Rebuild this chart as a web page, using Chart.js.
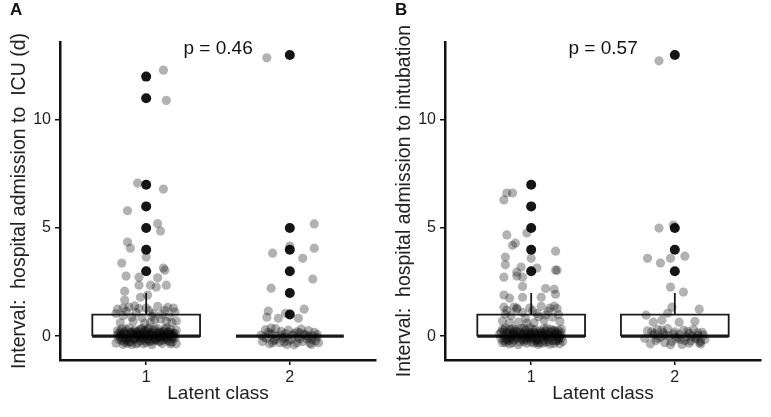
<!DOCTYPE html>
<html>
<head>
<title>Latent class intervals</title>
<script src="https://cdn.jsdelivr.net/npm/chart.js@4.4.1/dist/chart.umd.min.js"></script>
<style>
  body { margin: 0; background: #fff; }
  #wrap { position: relative; width: 771px; height: 417px; }
  canvas { position: absolute; top: 0; }
</style>
</head>
<body>
<div id="wrap">
  <canvas id="chartA" width="386" height="417" style="left:0"></canvas>
  <canvas id="chartB" width="386" height="417" style="left:385px"></canvas>
</div>

<script>
// categories
var classes = ['1', '2'];

// panel A: hospital admission to ICU
var aQ1 = [0, 0];
var aMed = [0, 0];
var aQ3 = [1, 0];
var aHi = [2, 0];
var aOut1 = [3, 4, 5, 6, 7, 11, 12];
var aOut2 = [1, 2, 3, 4, 5, 13];
var aP = 'p = 0.46';

// panel B: hospital admission to intubation
var bQ1 = [0, 0];
var bMed = [0, 0];
var bQ3 = [1, 1];
var bHi = [2, 2];
var bOut1 = [3, 4, 5, 6, 7];
var bOut2 = [3, 4, 5, 13];
var bP = 'p = 0.57';

var aJit1 = [
  [1.12,12.3],[1.14,10.9],[0.94,7.08],[1.12,6.8],[0.87,5.8],[1.08,5.2],[1.10,4.86],[0.87,4.35],[0.89,4.07],
  [1.0,3.66],[0.83,3.38],[1.12,3.15],[1.13,3.05],[0.86,2.78],[0.95,2.73],[1.08,2.7],[0.95,2.36],[1.07,2.27],
  [1.14,2.36],[1.03,2.36],[0.85,2.08],[0.96,1.8],[1.01,1.9],[0.85,1.67],[0.84,1.3],
  [0.80,1.25],[0.84,0.95],[0.88,1.35],[0.91,0.7],[0.93,1.1],[0.97,0.85],[1.00,1.3],[1.03,0.65],[1.05,1.05],
  [1.08,1.38],[1.10,0.8],[1.13,1.2],[1.16,0.9],[1.19,1.3],[1.21,0.7],[0.82,0.62],[0.86,1.15],[0.90,0.88],
  [0.95,1.28],[0.99,0.6],[1.02,1.18],[1.06,0.75],[1.11,1.02],[1.15,1.33],[1.18,0.62],[0.79,1.05],[0.92,1.4],
  [1.04,0.92],[1.14,0.68],[1.20,1.12],
  [0.79,-0.32],[0.81,0.12],[0.82,-0.05],[0.83,0.34],[0.84,-0.38],[0.85,0.21],[0.86,-0.18],[0.87,0.05],[0.88,0.38],[0.89,-0.27],
  [0.90,0.15],[0.91,-0.08],[0.92,0.29],[0.93,-0.36],[0.94,0.02],[0.95,0.24],[0.96,-0.21],[0.97,0.36],[0.98,-0.12],[0.99,0.09],
  [1.00,-0.3],[1.01,0.31],[1.02,-0.02],[1.03,0.18],[1.04,-0.39],[1.05,0.26],[1.06,-0.15],[1.07,0.07],[1.08,0.35],[1.09,-0.24],
  [1.10,0.13],[1.11,-0.34],[1.12,0.22],[1.13,-0.06],[1.14,0.39],[1.15,-0.19],[1.16,0.04],[1.17,0.3],[1.18,-0.28],[1.19,0.16],
  [1.20,-0.1],[1.21,0.27],[0.80,0.25],[0.83,-0.2],[0.86,0.3],[0.88,-0.1],[0.91,0.2],[0.94,-0.3],[0.97,0.1],[1.00,0.22],
  [1.03,-0.25],[1.06,0.33],[1.09,0.0],[1.12,-0.17],[1.15,0.2],[1.18,0.08],[1.21,-0.35],[0.82,0.0],[0.87,-0.33],[0.92,0.06],
  [0.96,0.32],[1.01,-0.14],[1.05,0.02],[1.10,-0.22],[1.14,0.11],[1.19,-0.04],[0.85,0.14],[0.90,-0.38],[0.95,-0.04],[0.99,0.27],
  [1.04,0.12],[1.08,-0.07],[1.13,0.32],[1.17,-0.36],[0.81,-0.15],[0.93,0.19],[1.02,0.38],[1.11,0.06],[1.16,-0.26],[0.98,-0.35],
  [0.80,0.05],[0.82,0.2],[0.84,-0.1],[0.86,0.08],[0.88,-0.25],[0.90,0.0],[0.92,-0.15],[0.94,0.12],[0.96,-0.05],[0.98,0.2],
  [1.00,0.0],[1.02,-0.2],[1.04,0.05],[1.06,-0.1],[1.08,0.15],[1.10,-0.05],[1.12,0.02],[1.14,-0.12],[1.16,0.18],[1.18,-0.08],
  [1.20,0.12],[0.83,0.08],[0.87,-0.06],[0.91,0.1],[0.95,0.05],[0.99,-0.2],[1.03,0.04],[1.07,-0.18],[1.11,0.16],[1.15,-0.03],
  [1.19,0.02],[0.85,-0.28],[0.89,0.18],[0.93,-0.12],[0.97,0.0],[1.01,0.08],[1.05,-0.22],[1.09,0.2],[1.13,0.0],[1.17,0.1]
];
var aJit2 = [
  [1.84,12.87],[2.17,5.19],[2.0,4.17],[1.88,3.84],[2.17,4.07],[2.09,3.6],[2.16,2.64],[1.87,2.22],[2.10,1.25],
  [1.85,1.16],[1.84,0.88],[1.92,0.83],[1.97,1.06],[2.06,0.83],
  [1.80,0.05],[1.81,-0.25],[1.83,0.3],[1.84,-0.1],[1.85,0.18],[1.86,-0.35],[1.88,0.08],[1.89,-0.2],[1.90,0.35],[1.91,0.0],
  [1.93,-0.3],[1.94,0.22],[1.95,-0.08],[1.97,0.12],[1.98,-0.38],[1.99,0.28],[2.01,-0.15],[2.02,0.05],[2.03,-0.4],[2.05,0.2],
  [2.06,-0.05],[2.08,0.33],[2.09,-0.25],[2.10,0.1],[2.12,-0.12],[2.13,0.26],[2.14,-0.32],[2.16,0.02],[2.17,0.18],[2.18,-0.22],
  [2.19,0.08],[2.20,-0.3],[1.87,0.38],[1.96,-0.28],[2.07,0.15],[2.15,-0.38],
  [1.82,-0.05],[1.86,0.1],[1.90,-0.15],[1.94,0.05],[1.99,-0.22],[2.03,0.12],[2.07,-0.12],[2.11,0.05],[2.15,-0.15],[2.19,-0.05],
  [1.88,-0.3],[1.97,-0.05],[2.05,-0.3],[2.13,0.0]
];
var bJit1 = [
  [0.83,6.62],[0.87,6.62],[0.81,6.3],[0.83,4.68],[0.97,4.77],[0.87,4.2],[0.89,4.3],[1.17,3.93],[0.82,3.66],
  [1.0,3.6],[0.82,3.3],[0.93,3.2],[1.04,3.15],[0.90,2.96],[1.17,3.05],[1.18,3.05],[0.81,2.73],[0.94,2.73],
  [0.90,2.78],[0.94,2.3],[1.10,2.2],[1.16,2.17],[0.81,1.9],[0.85,1.76],[0.94,1.8],[1.07,1.8],[1.17,1.94],
  [0.81,1.34],[0.90,1.3],[1.16,1.39],
  [0.80,0.7],[0.83,1.2],[0.86,0.95],[0.88,1.35],[0.91,0.65],[0.94,1.1],[0.96,0.82],[0.99,1.3],[1.02,0.62],
  [1.04,1.05],[1.07,1.38],[1.09,0.75],[1.12,1.15],[1.15,0.88],[1.18,1.28],[1.20,0.68],[0.82,1.02],[0.90,1.25],
  [0.97,0.6],[1.05,0.9],[1.13,1.3],[1.19,1.0],[0.85,0.62],[1.01,1.18],[1.10,0.98],
  [0.78,0.1],[0.80,-0.3],[0.81,0.28],[0.83,-0.08],[0.84,0.16],[0.85,-0.36],[0.87,0.34],[0.88,-0.18],[0.89,0.04],[0.90,0.22],
  [0.92,-0.26],[0.93,0.12],[0.94,-0.02],[0.95,0.37],[0.97,-0.33],[0.98,0.19],[0.99,-0.11],[1.00,0.06],[1.01,0.3],[1.03,-0.2],
  [1.04,0.14],[1.05,-0.38],[1.06,0.25],[1.08,-0.06],[1.09,0.36],[1.10,-0.28],[1.11,0.09],[1.12,-0.14],[1.14,0.31],[1.15,-0.01],
  [1.16,-0.34],[1.17,0.2],[1.19,-0.17],[1.20,0.07],[1.21,0.33],[1.22,-0.24],[0.79,-0.12],[0.82,0.38],[0.86,0.0],[0.91,-0.39],
  [0.96,0.27],[1.02,-0.05],[1.07,0.18],[1.13,-0.37],[1.18,0.12],[0.84,-0.22],[0.89,0.3],[0.94,-0.16],[1.00,-0.27],[1.05,0.03],
  [1.10,0.24],[1.16,0.1],[1.21,-0.08],[0.81,0.02],[0.87,-0.3],[0.93,0.35],[0.98,-0.04],[1.03,0.29],[1.08,-0.32],[1.14,0.0],
  [1.19,0.26],[0.83,0.2],[0.90,-0.1],[0.97,0.08],[1.04,-0.14],[1.11,0.38],[1.17,-0.23],[0.80,0.32],[0.88,0.13],[0.95,-0.25],
  [1.02,0.17],[1.09,-0.19],[1.15,0.23],[1.20,-0.35],[0.86,-0.07],[0.99,0.39],[1.06,-0.29],[1.12,0.05],
  [0.79,0.18],[0.81,-0.2],[0.84,0.05],[0.86,-0.15],[0.88,0.25],[0.91,0.02],[0.93,-0.1],[0.95,0.15],[0.97,-0.18],[0.99,0.1],
  [1.01,-0.08],[1.03,0.1],[1.05,-0.15],[1.07,0.02],[1.09,0.15],[1.11,-0.06],[1.13,0.18],[1.15,-0.2],[1.17,0.02],[1.19,-0.1],
  [1.21,0.15],[0.82,-0.3],[0.85,0.3],[0.89,-0.05],[0.92,0.2],[0.96,-0.1],[1.00,0.15],[1.04,-0.28],[1.08,0.08],[1.12,-0.25],
  [1.16,0.28],[1.20,0.0],[0.87,0.15],[0.94,0.06],[1.02,-0.32],[1.10,0.0],[1.18,-0.2],[0.83,-0.15],[0.98,0.0],[1.06,0.12]
];
var bJit2 = [
  [1.89,12.73],[1.89,5.0],[1.99,5.14],[1.81,3.6],[1.90,3.38],[1.97,3.6],[2.07,3.7],[1.97,2.27],[2.06,2.04],
  [1.98,1.34],[2.17,1.25],[1.80,0.97],[1.85,0.65],[1.91,0.74],[2.03,0.65],[2.14,0.69],[1.95,1.06],
  [1.79,-0.1],[1.81,0.25],[1.83,-0.35],[1.85,0.05],[1.87,-0.2],[1.88,0.3],[1.90,-0.05],[1.92,0.15],[1.93,-0.3],[1.95,0.35],
  [1.96,0.0],[1.98,-0.25],[2.00,0.2],[2.01,-0.12],[2.03,0.08],[2.05,-0.38],[2.06,0.28],[2.08,-0.02],[2.10,0.12],[2.11,-0.22],
  [2.13,0.32],[2.14,-0.08],[2.16,0.04],[2.17,-0.3],[2.19,0.18],[2.21,-0.15],[1.86,0.12],[1.97,-0.4],[2.09,0.22],[2.18,-0.36],
  [1.84,0.2],[1.88,-0.1],[1.93,0.05],[1.99,0.1],[2.02,-0.05],[2.07,-0.2],[2.12,0.0],[2.15,-0.12],[2.18,-0.25],[2.20,0.05],
  [2.04,-0.15],[2.10,-0.32],[1.91,0.28],[2.16,0.15]
];

var FONT = '"Liberation Sans", Arial, sans-serif';
var BOX_HALF = 0.375;

function toXY(list) {
  return list.map(function (p) { return { x: p[0], y: p[1] }; });
}

function lineSet(pts, width, order) {
  return {
    type: 'scatter',
    data: pts,
    showLine: true,
    borderColor: '#1a1a1a',
    borderWidth: width,
    pointRadius: 0,
    fill: false,
    tension: 0,
    order: order
  };
}

// boxes, medians and whiskers built from the summary arrays
function boxSets(q1, med, q3, hi) {
  var sets = [];
  for (var i = 0; i < classes.length; i++) {
    var c = i + 1;
    sets.push(lineSet([
      { x: c - BOX_HALF, y: q1[i] }, { x: c + BOX_HALF, y: q1[i] },
      { x: c + BOX_HALF, y: q3[i] }, { x: c - BOX_HALF, y: q3[i] },
      { x: c - BOX_HALF, y: q1[i] }
    ], 1.8, 4));
    sets.push(lineSet([{ x: c - BOX_HALF, y: med[i] }, { x: c + BOX_HALF, y: med[i] }], 3.2, 4));
    if (hi[i] > q3[i]) {
      sets.push(lineSet([{ x: c, y: q3[i] }, { x: c, y: hi[i] }], 1.8, 4));
    }
  }
  return sets;
}

var panelText = {
  id: 'panelText',
  afterDraw: function (chart, args, opts) {
    var ctx = chart.ctx;
    ctx.save();
    ctx.fillStyle = '#111';
    ctx.font = 'bold 17px ' + FONT;
    ctx.textBaseline = 'alphabetic';
    ctx.textAlign = 'left';
    ctx.fillText(opts.letter, 10, 15);
    ctx.font = '19px ' + FONT;
    ctx.textBaseline = 'middle';
    ctx.fillText(opts.pText, chart.scales.x.getPixelForValue(1.26), chart.scales.y.getPixelForValue(13.3));
    ctx.restore();
  }
};

function makePanel(id, letter, yTitle, q1, med, q3, hi, out1, out2, jit1, jit2, pText) {
  var datasets = boxSets(q1, med, q3, hi);
  datasets.push({
    type: 'scatter',
    data: out1.map(function (v) { return { x: 1, y: v }; }).concat(out2.map(function (v) { return { x: 2, y: v }; })),
    backgroundColor: '#151515',
    borderWidth: 0,
    pointRadius: 5,
    order: 3
  });
  datasets.push({
    type: 'scatter',
    data: toXY(jit1).concat(toXY(jit2)),
    backgroundColor: 'rgba(0,0,0,0.3)',
    borderWidth: 0,
    pointRadius: 4.6,
    order: 1
  });

  return new Chart(document.getElementById(id), {
    type: 'scatter',
    data: { datasets: datasets },
    options: {
      responsive: false,
      animation: false,
      layout: { padding: { left: 0, top: 42, right: 10, bottom: 0 } },
      plugins: {
        legend: { display: false },
        tooltip: { enabled: false },
        panelText: { letter: letter, pText: pText }
      },
      scales: {
        x: {
          type: 'linear',
          min: 0.4,
          max: 2.6,
          afterBuildTicks: function (s) { s.ticks = [{ value: 1 }, { value: 2 }]; },
          afterFit: function (s) { s.height = 57; },
          ticks: {
            padding: 3,
            color: '#222',
            font: { family: FONT, size: 16 },
            callback: function (v) { return classes[v - 1]; }
          },
          grid: { display: true, drawOnChartArea: false, drawTicks: true, tickLength: 5, color: '#111', lineWidth: 1.5 },
          border: { display: true, color: '#111', width: 2.5 },
          title: { display: true, text: 'Latent class', color: '#222', font: { family: FONT, size: 19 }, padding: { top: 0, bottom: 12 } }
        },
        y: {
          type: 'linear',
          min: -1.1,
          max: 13.6,
          afterBuildTicks: function (s) { s.ticks = [{ value: 0 }, { value: 5 }, { value: 10 }]; },
          afterFit: function (s) { s.width = 60; },
          ticks: { padding: 4, color: '#222', font: { family: FONT, size: 16 } },
          grid: { display: true, drawOnChartArea: false, drawTicks: true, tickLength: 5, color: '#111', lineWidth: 1.5 },
          border: { display: true, color: '#111', width: 2.5 },
          title: { display: true, text: yTitle, color: '#222', font: { family: FONT, size: 19.5 }, padding: { top: 8, bottom: 0 } }
        }
      }
    },
    plugins: [panelText]
  });
}

makePanel('chartA', 'A', 'Interval:  hospital admission to  ICU (d)',
  aQ1, aMed, aQ3, aHi, aOut1, aOut2, aJit1, aJit2, aP);
makePanel('chartB', 'B', 'Interval:  hospital admission to intubation',
  bQ1, bMed, bQ3, bHi, bOut1, bOut2, bJit1, bJit2, bP);
</script>
</body>
</html>
